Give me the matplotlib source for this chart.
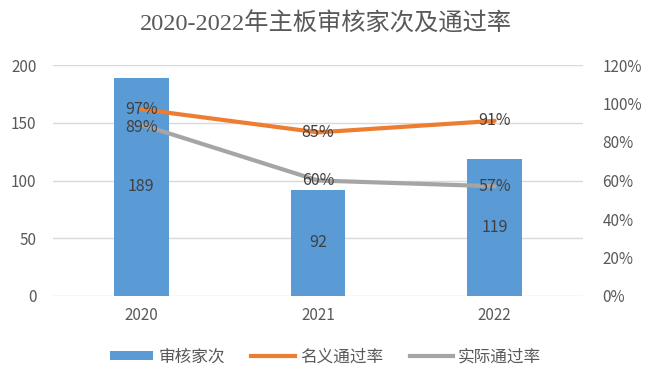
import numpy as np
import matplotlib.pyplot as plt
from matplotlib.patches import Patch
from matplotlib.lines import Line2D

plt.rcParams['font.family'] = ['Noto Sans CJK SC', 'DejaVu Sans']

years = ["2020", "2021", "2022"]
reviews = [189, 92, 119]
nominal_rate = [0.97, 0.85, 0.91]
actual_rate = [0.89, 0.60, 0.57]

BAR_COLOR = "#5B9BD5"
ORANGE = "#ED7D31"
GRAY = "#A5A5A5"
TEXT = "#595959"

fig = plt.figure(figsize=(6.51, 3.76), dpi=100)
ax = fig.add_axes([53 / 651, 1 - 296 / 376, 530 / 651, 231 / 376])
ax2 = ax.twinx()

x = np.arange(len(years))
ax.bar(x, reviews, width=0.31, color=BAR_COLOR, zorder=2)
ax.set_ylim(0, 200)
ax.set_yticks(range(0, 201, 50))
ax.set_xlim(-0.5, 2.5)
ax.set_xticks(x)
ax.set_xticklabels(years)
ax.grid(axis="y", color="#D9D9D9", linewidth=1, zorder=0)
ax.set_axisbelow(True)

for xi, v in zip(x, reviews):
    ax.text(xi, v / 2, str(v), ha="center", va="center", fontsize=11.5, color="#404040", zorder=5)

ax2.plot(x, nominal_rate, color=ORANGE, linewidth=3, solid_capstyle="round", zorder=3)
ax2.plot(x, actual_rate, color=GRAY, linewidth=3, solid_capstyle="round", zorder=3)
ax2.set_ylim(0, 1.2)
ax2.set_yticks(np.arange(0, 1.21, 0.2))
ax2.set_yticklabels([f"{int(round(t * 100))}%" for t in np.arange(0, 1.21, 0.2)])

for xi, v in zip(x, nominal_rate):
    ax2.text(xi, v, f"{int(round(v * 100))}%", ha="center", va="center", fontsize=11.5, color="#404040", zorder=5)
for xi, v in zip(x, actual_rate):
    dy = -0.015 if xi == 0 else 0
    ax2.text(xi, v + dy, f"{int(round(v * 100))}%", ha="center", va="center", fontsize=11.5, color="#404040", zorder=5)

for a in (ax, ax2):
    for s in a.spines.values():
        s.set_visible(False)
    a.tick_params(length=0, colors=TEXT, labelsize=11)
ax.tick_params(axis="y", pad=12)
ax.tick_params(axis="x", pad=8)
ax2.tick_params(axis="y", pad=14)

fig.text(0.5, 1 - 24 / 376, "2020-2022年主板审核家次及通过率", ha="center", va="center",
         fontsize=17.5, color=TEXT, family=['Liberation Serif', 'Noto Sans CJK SC'])

handles = [
    Patch(facecolor=BAR_COLOR, edgecolor="none"),
    Line2D([0], [0], color=ORANGE, linewidth=3),
    Line2D([0], [0], color=GRAY, linewidth=3),
]
fig.legend(handles, ["审核家次", "名义通过率", "实际通过率"], loc="center",
           bbox_to_anchor=(0.5, 1 - 357 / 376), ncol=3, frameon=False,
           fontsize=12, labelcolor=TEXT, handlelength=2.6, handleheight=0.5,
           columnspacing=1.6, handletextpad=0.3)

fig.savefig("out.png", dpi=100)
